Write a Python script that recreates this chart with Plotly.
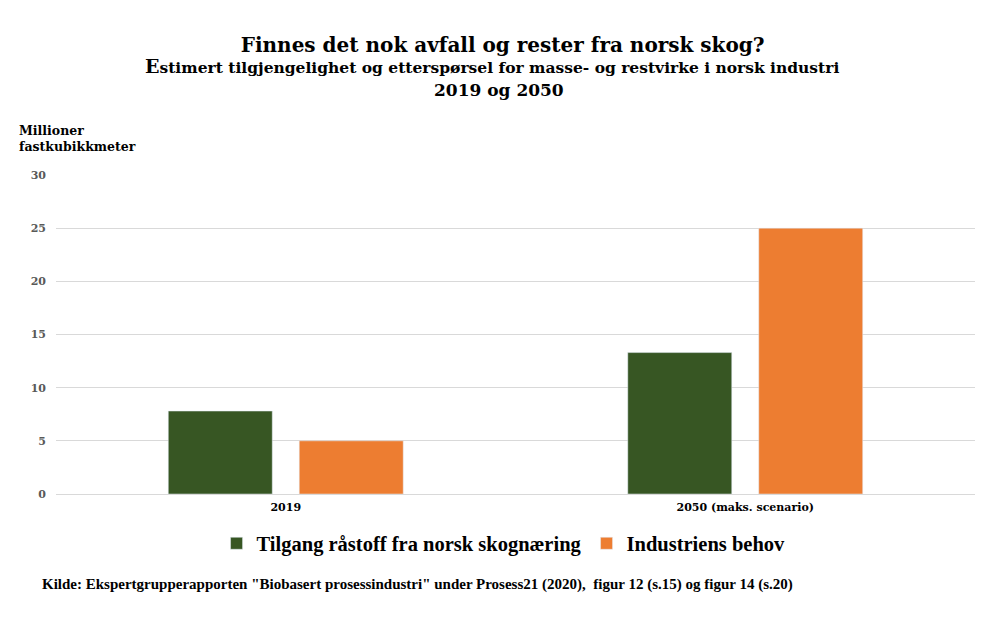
import plotly.graph_objects as go

categories = ["<b>2019</b>", "<b>2050 (maks. scenario)</b>"]
tilgang = [7.8, 13.3]
behov = [5.0, 25.0]
y_ticks = [0, 5, 10, 15, 20, 25, 30]
y_ticktext = ["<b>%d</b>" % v for v in y_ticks]

SERIF = "Liberation Serif, Times New Roman, serif"
WIDE = "DejaVu Serif, serif"

fig = go.Figure()
fig.add_trace(go.Bar(
    x=categories, y=tilgang, name="<b>Tilgang råstoff fra norsk skognæring</b>",
    marker=dict(color="#375623"), hoverinfo="y",
))
fig.add_trace(go.Bar(
    x=categories, y=behov, name="<b>Industriens behov</b>",
    marker=dict(color="#ED7D31"), hoverinfo="y",
))

fig.update_layout(
    width=1000, height=622,
    paper_bgcolor="white", plot_bgcolor="white",
    margin=dict(l=48, r=33, t=167, b=136),
    barmode="group", bargap=0.43, bargroupgap=0.206,
    font=dict(family=SERIF, color="#000000"),
    title=dict(
        text="<b>Finnes det nok avfall og rester fra norsk skog?</b>",
        x=0.486, xanchor="center", xref="paper", y=1 - 37 / 622, yanchor="middle",
        font=dict(family=WIDE, size=20, color="#000000"),
    ),
    legend=dict(
        orientation="h", x=0.487, xanchor="center", y=-0.155, yanchor="middle",
        font=dict(family=SERIF, size=20.5, color="#000000"),
        itemwidth=30, traceorder="normal",
    ),
    showlegend=True,
)

fig.update_xaxes(
    showline=True, linecolor="#d9d9d9", linewidth=1, automargin=False,
    tickfont=dict(family=WIDE, size=11, color="#000000"),
    ticks="", ticklabelstandoff=3,
)
fig.update_yaxes(
    range=[0, 30], tickvals=y_ticks, ticktext=y_ticktext, showgrid=True,
    gridcolor="#d9d9d9", zeroline=False, ticks="", ticklabelstandoff=9,
    automargin=False,
    tickfont=dict(family=WIDE, size=11, color="#595959"),
)

# subtitle lines
fig.add_annotation(
    text="<b><span style='font-size:19px'>E</span>stimert tilgjengelighet og etterspørsel "
         "for masse- og restvirke i norsk industri</b>",
    xref="paper", yref="paper", x=0.474, y=(494 - 66) / 319, xanchor="center", yanchor="middle",
    showarrow=False, font=dict(family=WIDE, size=15.5, color="#000000"),
)
fig.add_annotation(
    text="<b>2019 og 2050</b>",
    xref="paper", yref="paper", x=0.482, y=(494 - 90) / 319, xanchor="center", yanchor="middle",
    showarrow=False, font=dict(family=WIDE, size=17, color="#000000"),
)

fig.add_annotation(
    text="<b>Millioner<br>fastkubikkmeter</b>", xref="paper", yref="paper",
    x=-0.042, y=1.17, xanchor="left", yanchor="top", align="left", showarrow=False,
    font=dict(family=WIDE, size=12.5, color="#000000"),
)
fig.add_annotation(
    text="<b>Kilde: Ekspertgrupperapporten \"Biobasert prosessindustri\" under Prosess21 (2020), "
         " figur 12 (s.15) og figur 14 (s.20)</b>",
    xref="paper", yref="paper", x=-0.017, y=-0.285, xanchor="left", yanchor="middle",
    showarrow=False, font=dict(family=SERIF, size=15, color="#000000"),
)

fig.write_html("out.html")
